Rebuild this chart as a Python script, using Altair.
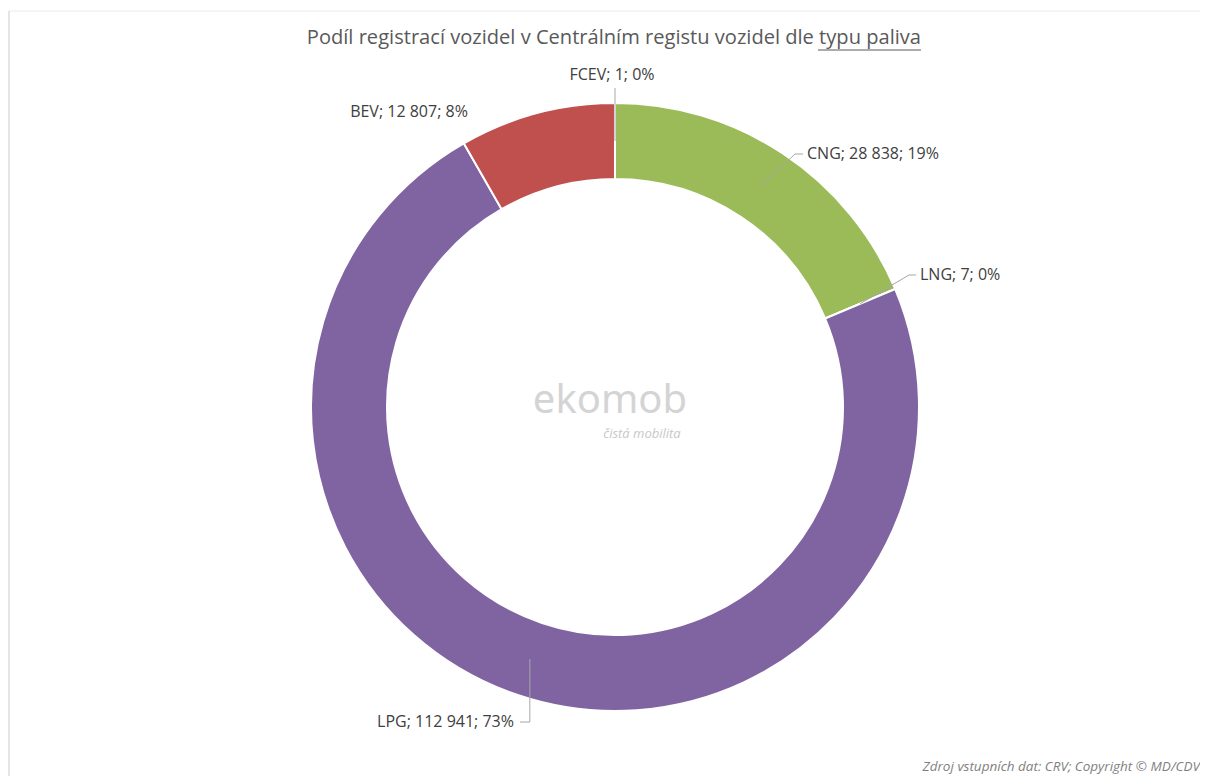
import math
import altair as alt
import pandas as pd

# ---- data ----
categories = ["CNG", "LNG", "LPG", "BEV", "FCEV"]
values = [28838, 7, 112941, 12807, 1]
colors = ["#9BBB59", "#4BACC6", "#8064A2", "#C0504D", "#F79646"]

title_text = "Podíl registrací vozidel v Centrálním registu vozidel dle typu paliva"
footer_text = "Zdroj vstupních dat: CRV; Copyright © MD/CDV"

# ---- layout (plot-area pixels) ----
W, H = 1192, 768
CX, CY = 607, 399
R_OUT, R_IN, R_LEAD = 304, 228, 266
FONT = "Open Sans"

# label anchors: (x, y, align) and leader elbow/end points
label_pos = {
    "CNG": (799, 146, "left"),
    "LNG": (912, 267, "left"),
    "LPG": (506, 714, "right"),
    "BEV": (401, 104, "center"),
    "FCEV": (604, 67, "center"),
}
leader_pts = {
    "CNG": [(787, 146), (795, 146)],
    "LNG": [(901, 267), (908, 267)],
    "LPG": [(None, 714), (512, 714)],
    "FCEV": [(None, 80)],
}

total = sum(values)
df = pd.DataFrame({"cat": categories, "value": values, "idx": list(range(len(values)))})


def fmt(v):
    return f"{v:,}".replace(",", " ")


labels = []
for c, v in zip(categories, values):
    x, y, a = label_pos[c]
    labels.append({"cat": c, "text": f"{c}; {fmt(v)}; {round(v / total * 100)}%", "px": x, "py": y, "al": a})
df_labels = pd.DataFrame(labels)

# leader lines: start at mid-angle of each slice on the ring's middle
rows = []
cum = 0
for c, v in zip(categories, values):
    mid = (cum + v / 2) / total * 2 * math.pi
    cum += v
    if c not in leader_pts:
        continue
    sx = CX + R_LEAD * math.sin(mid)
    sy = CY - R_LEAD * math.cos(mid)
    rows.append({"cat": c, "step": 0, "px": sx, "py": sy})
    for i, (ex, ey) in enumerate(leader_pts[c]):
        rows.append({"cat": c, "step": i + 1, "px": sx if ex is None else ex, "py": ey})
df_lines = pd.DataFrame(rows)

xs = alt.Scale(domain=[0, W], nice=False, zero=False)
ys = alt.Scale(domain=[0, H], nice=False, zero=False, reverse=True)

arc = alt.Chart(df).mark_arc(radius=R_OUT, radius2=R_IN, stroke="white", strokeWidth=2).encode(
    theta=alt.Theta("value:Q", stack=True),
    color=alt.Color("cat:N", scale=alt.Scale(domain=categories, range=colors), legend=None),
    order=alt.Order("idx:Q"),
    x=alt.value(CX),
    y=alt.value(CY),
)

lines = alt.Chart(df_lines).mark_line(color="#a6a6a6", strokeWidth=1).encode(
    x=alt.X("px:Q", scale=xs, axis=None),
    y=alt.Y("py:Q", scale=ys, axis=None),
    detail="cat:N",
    order="step:Q",
)


def label_layer(al):
    return alt.Chart(df_labels).transform_filter(alt.datum.al == al).mark_text(
        align=al, baseline="middle", font=FONT, fontSize=16, color="#404040"
    ).encode(
        x=alt.X("px:Q", scale=xs, axis=None),
        y=alt.Y("py:Q", scale=ys, axis=None),
        text="text:N",
    )


TITLE_RIGHT = 913
title_a = alt.Chart(pd.DataFrame({"t": [title_text]})).mark_text(
    align="right", baseline="middle", font=FONT, fontSize=20.1, color="#595959"
).encode(x=alt.value(TITLE_RIGHT), y=alt.value(30), text="t:N")

underline = alt.Chart(pd.DataFrame({"a": [0]})).mark_rule(color="#595959", strokeWidth=1).encode(
    x=alt.value(810), x2=alt.value(TITLE_RIGHT), y=alt.value(42)
)

footer = alt.Chart(pd.DataFrame({"t": [footer_text]})).mark_text(
    align="right", baseline="middle", font=FONT, fontSize=13.5, fontStyle="italic", color="#7f7f7f"
).encode(x=alt.value(1192), y=alt.value(759), text="t:N")

wm1 = alt.Chart(pd.DataFrame({"t": ["ekomob"]})).mark_text(
    align="center", baseline="middle", font="Noto Sans", fontSize=40, color="#d4d4d4"
).encode(x=alt.value(602), y=alt.value(393), text="t:N")

wm2 = alt.Chart(pd.DataFrame({"t": ["čistá mobilita"]})).mark_text(
    align="center", baseline="middle", font=FONT, fontSize=13, fontStyle="italic", color="#c8c8c8"
).encode(x=alt.value(634), y=alt.value(426), text="t:N")

border_top = alt.Chart(pd.DataFrame({"a": [0]})).mark_rule(color="#ececec", strokeWidth=1).encode(
    x=alt.value(1), x2=alt.value(W), y=alt.value(3)
)
border_left = alt.Chart(pd.DataFrame({"a": [0]})).mark_rule(color="#dcdcdc", strokeWidth=1.5).encode(
    x=alt.value(1), y=alt.value(3), y2=alt.value(H)
)

chart = alt.layer(
    border_top, border_left, arc, lines,
    label_layer("left"), label_layer("right"), label_layer("center"),
    title_a, underline, footer, wm1, wm2,
).properties(
    width=W, height=H, padding=0, autosize=alt.AutoSizeParams(type="none"),
).configure_view(stroke=None)

chart.save("out.html", embed_options={"renderer": "svg", "actions": False})
